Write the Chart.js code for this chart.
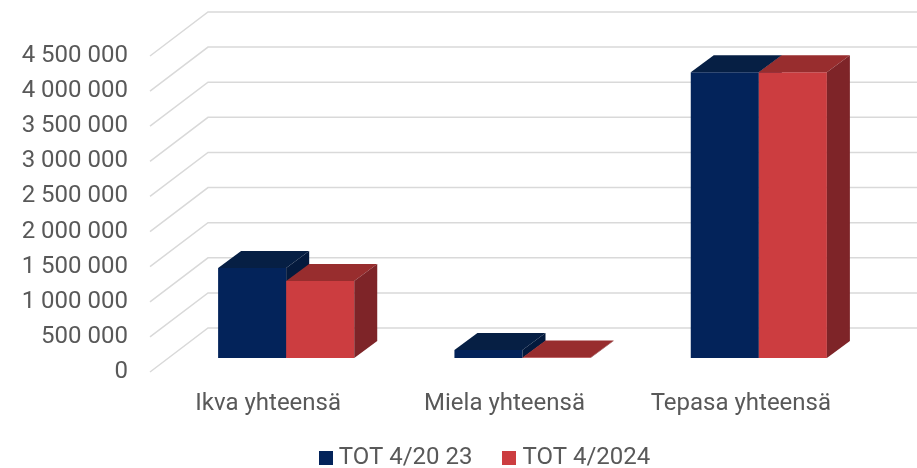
<!DOCTYPE html>
<html>
<head>
<meta charset="utf-8">
<script src="https://cdn.jsdelivr.net/npm/chart.js@4"></script>
<style>
  html, body { margin: 0; padding: 0; background: #fff; }
  #wrap { width: 917px; height: 468px; }
</style>
</head>
<body>
<div id="wrap"><canvas id="chart"></canvas></div>
<script>
// Chart data.
var categories = ['Ikva yhteensä', 'Miela yhteensä', 'Tepasa yhteensä'];
var seriesNames = ['TOT 4/20 23', 'TOT 4/2024'];
var tot2023 = [1280000, 115000, 4070000];
var tot2024 = [1095000, 8000, 4070000];
var yMin = 0;
var yMax = 4500000;
var yStep = 500000;

// Face colours: front, top, side.
var blueFaces = ['#03235A', '#061F44', '#041A3D'];
var redFaces = ['#CC3D40', '#982D2E', '#7E2428'];

// Oblique projection of the floor depth.
var DEPTH_X = 58, DEPTH_Y = -44;
var BAR_OFF_X = 18, BAR_OFF_Y = -14;
var BAR_DEPTH_X = 23, BAR_DEPTH_Y = -17;

// Legend placement fix-up.
var LEGEND_SHIFT_X = 58;
var LEGEND_TOP = 410;

function fmt(v) {
  return String(v).replace(/\B(?=(\d{3})+(?!\d))/g, ' ');
}

function poly(ctx, pts, color) {
  ctx.beginPath();
  ctx.moveTo(pts[0][0], pts[0][1]);
  for (var i = 1; i < pts.length; i++) {
    ctx.lineTo(pts[i][0], pts[i][1]);
  }
  ctx.closePath();
  ctx.fillStyle = color;
  ctx.fill();
}

// Square legend marker, drawn as a point style image.
function swatch(color) {
  var c = document.createElement('canvas');
  c.width = 14;
  c.height = 14;
  var g = c.getContext('2d');
  g.fillStyle = color;
  g.fillRect(0, 0, 14, 14);
  return c;
}
var swatches = [swatch(blueFaces[0]), swatch(redFaces[0])];

var threeD = {
  id: 'threeD',
  afterLayout: function (chart) {
    var lg = chart.legend;
    if (lg) {
      var h = lg.bottom - lg.top;
      lg.left += LEGEND_SHIFT_X;
      lg.right += LEGEND_SHIFT_X;
      lg.top = LEGEND_TOP;
      lg.bottom = LEGEND_TOP + h;
    }
  },
  beforeDatasetsDraw: function (chart) {
    var ctx = chart.ctx;
    var area = chart.chartArea;
    var y = chart.scales.y;

    // Back wall grid and the diagonals on the side wall.
    ctx.save();
    ctx.strokeStyle = '#D9D9D9';
    ctx.lineWidth = 1.5;
    for (var v = yMin; v <= yMax; v += yStep) {
      var py = y.getPixelForValue(v);
      ctx.beginPath();
      ctx.moveTo(area.left, py);
      ctx.lineTo(area.left + DEPTH_X, py + DEPTH_Y);
      ctx.lineTo(chart.width, py + DEPTH_Y);
      ctx.stroke();
    }
    ctx.restore();

    // Bars as boxes.
    ctx.save();
    chart.data.datasets.forEach(function (ds, di) {
      var faces = di === 0 ? blueFaces : redFaces;
      var meta = chart.getDatasetMeta(di);
      meta.data.forEach(function (bar) {
        var p = bar.getProps(['x', 'y', 'base', 'width'], true);
        var l = p.x - p.width / 2 + BAR_OFF_X;
        var r = p.x + p.width / 2 + BAR_OFF_X;
        var t = p.y + BAR_OFF_Y;
        var b = p.base + BAR_OFF_Y;
        var dx = BAR_DEPTH_X, dy = BAR_DEPTH_Y;
        poly(ctx, [[l, b], [r, b], [r, t], [l, t]], faces[0]);
        poly(ctx, [[l, t], [r, t], [r + dx, t + dy], [l + dx, t + dy]], faces[1]);
        poly(ctx, [[r, b], [r + dx, b + dy], [r + dx, t + dy], [r, t]], faces[2]);
      });
    });
    ctx.restore();
    return false;
  }
};

new Chart(document.getElementById('chart'), {
  type: 'bar',
  plugins: [threeD],
  data: {
    labels: categories,
    datasets: [
      { label: seriesNames[0], data: tot2023, backgroundColor: blueFaces[0] },
      { label: seriesNames[1], data: tot2024, backgroundColor: redFaces[0] }
    ]
  },
  options: {
    responsive: true,
    maintainAspectRatio: false,
    animation: false,
    devicePixelRatio: 1,
    layout: {
      padding: { left: 0, right: 58, top: 56, bottom: -34 }
    },
    datasets: {
      bar: { barPercentage: 1, categoryPercentage: 0.576 }
    },
    scales: {
      x: {
        grid: { display: false, drawTicks: false },
        border: { display: false },
        ticks: {
          color: '#595959',
          padding: 18,
          font: { family: 'Roboto', size: 24 }
        },
        afterFit: function (scale) { scale.height = 60; }
      },
      y: {
        min: yMin,
        max: yMax,
        grid: { display: false, drawTicks: false },
        border: { display: false },
        ticks: {
          stepSize: yStep,
          color: '#595959',
          padding: 22,
          font: { family: 'Roboto', size: 24 },
          callback: function (v) { return fmt(v); }
        },
        afterFit: function (scale) { scale.width = 150; }
      }
    },
    plugins: {
      legend: {
        position: 'bottom',
        labels: {
          color: '#595959',
          usePointStyle: true,
          pointStyleWidth: 2,
          boxHeight: 14,
          padding: 36,
          font: { family: 'Roboto', size: 24 },
          generateLabels: function (chart) {
            var items = Chart.defaults.plugins.legend.labels.generateLabels(chart);
            items.forEach(function (it, i) { it.pointStyle = swatches[i]; });
            return items;
          }
        }
      },
      tooltip: { enabled: false }
    }
  }
});
</script>
</body>
</html>
